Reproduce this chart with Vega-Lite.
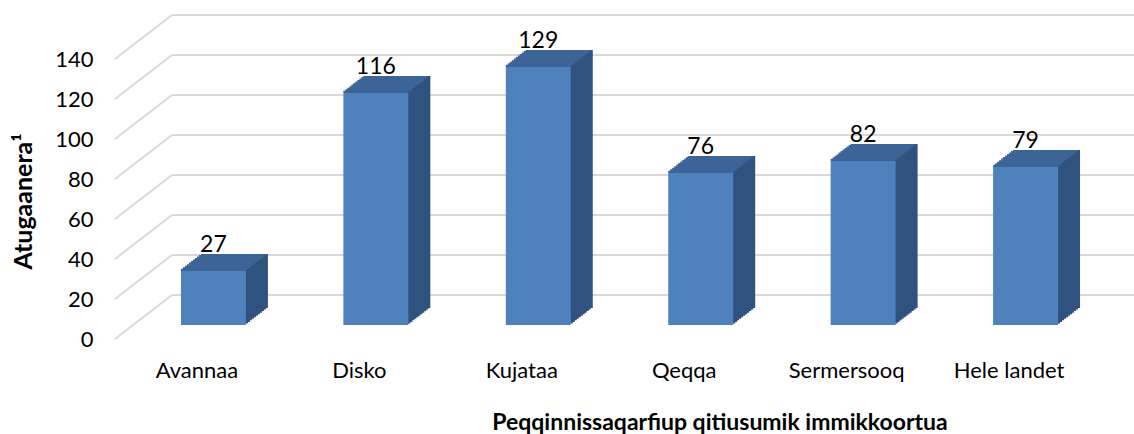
{
  "$schema": "https://vega.github.io/schema/vega-lite/v6.json",
  "width": 1009,
  "height": 311,
  "autosize": {"type": "none"},
  "padding": {"left": 115, "top": 14, "right": 10, "bottom": 109},
  "background": "white",
  "config": {"view": {"stroke": null}, "font": "Lato"},
  "resolve": {"axis": {"x": "independent", "y": "independent"}},
  "data": {"values": [
    {"region": "Avannaa", "value": 27},
    {"region": "Disko", "value": 116},
    {"region": "Kujataa", "value": 129},
    {"region": "Qeqqa", "value": 76},
    {"region": "Sermersooq", "value": 82},
    {"region": "Hele landet", "value": 79}
  ]},
  "layer": [
    {
      "data": {"values": [{"v": 0}, {"v": 20}, {"v": 40}, {"v": 60}, {"v": 80}, {"v": 100}, {"v": 120}, {"v": 140}]},
      "layer": [
        {
          "mark": {"type": "rule", "color": "#d9d9d9", "strokeWidth": 2, "yOffset": -30, "y2Offset": -30, "xOffset": -41.5, "x2Offset": 108.5},
          "encoding": {
            "x": {"datum": "Avannaa", "type": "nominal", "axis": null, "scale": {"domain": ["Avannaa", "Disko", "Kujataa", "Qeqqa", "Sermersooq", "Hele landet"], "paddingInner": 0.6, "paddingOuter": 0.406}},
            "x2": {"datum": "Hele landet"},
            "y": {"field": "v", "type": "quantitative", "axis": null, "scale": {"domain": [0, 155.5], "nice": false}},
            "y2": {"field": "v"}
          }
        },
        {
          "mark": {"type": "rule", "color": "#d9d9d9", "strokeWidth": 2, "yOffset": 14, "y2Offset": -30, "xOffset": -98.5, "x2Offset": -41.5},
          "encoding": {
            "x": {"datum": "Avannaa", "type": "nominal", "axis": null, "scale": {"domain": ["Avannaa", "Disko", "Kujataa", "Qeqqa", "Sermersooq", "Hele landet"], "paddingInner": 0.6, "paddingOuter": 0.406}},
            "x2": {"datum": "Avannaa"},
            "y": {"field": "v", "type": "quantitative", "axis": null, "scale": {"domain": [0, 155.5], "nice": false}},
            "y2": {"field": "v"}
          }
        }
      ]
    },
    {
      "encoding": {
        "x": {"field": "region", "type": "nominal", "sort": null,
          "scale": {"domain": ["Avannaa", "Disko", "Kujataa", "Qeqqa", "Sermersooq", "Hele landet"], "paddingInner": 0.6, "paddingOuter": 0.406},
          "axis": {"title": "Peqqinnissaqarfiup qitiusumik immikkoortua", "titleFont": "Lato", "titleFontSize": 23, "titleFontWeight": "bold", "titleColor": "#000000",
            "titleX": 604.5, "titleY": 104, "titleAlign": "center", "titleBaseline": "alphabetic",
            "labelAngle": 0, "labelFontSize": 22, "labelFont": "Lato", "labelColor": "#000000", "labelOffset": -16.5, "labelPadding": 52, "labelBaseline": "alphabetic",
            "domain": false, "ticks": false, "grid": false}},
        "y": {"field": "value", "type": "quantitative",
          "scale": {"domain": [0, 155.5], "nice": false},
          "axis": {"title": "Atugaanera¹", "titleFont": "Lato", "titleFontSize": 25, "titleFontWeight": "bold", "titleColor": "#000000",
            "titleX": -84, "titleY": 187, "titleAlign": "center", "titleBaseline": "alphabetic", "titleAngle": 270,
            "values": [0, 20, 40, 60, 80, 100, 120, 140], "labelOffset": 14, "labelPadding": 22, "labelFontSize": 22, "labelFont": "Lato", "labelColor": "#000000",
            "domain": false, "ticks": false, "grid": false}}
      },
      "layer": [
        {"mark": {"type": "bar", "color": "#30527e", "xOffset": 2, "yOffset": -1.545, "y2Offset": -1.545}, "encoding": {"y2": {"datum": 0}}},
        {"mark": {"type": "bar", "color": "#30527e", "xOffset": 4, "yOffset": -3.09, "y2Offset": -3.09}, "encoding": {"y2": {"datum": 0}}},
        {"mark": {"type": "bar", "color": "#30527e", "xOffset": 6, "yOffset": -4.636, "y2Offset": -4.636}, "encoding": {"y2": {"datum": 0}}},
        {"mark": {"type": "bar", "color": "#30527e", "xOffset": 8, "yOffset": -6.18, "y2Offset": -6.18}, "encoding": {"y2": {"datum": 0}}},
        {"mark": {"type": "bar", "color": "#30527e", "xOffset": 10, "yOffset": -7.73, "y2Offset": -7.73}, "encoding": {"y2": {"datum": 0}}},
        {"mark": {"type": "bar", "color": "#30527e", "xOffset": 12, "yOffset": -9.27, "y2Offset": -9.27}, "encoding": {"y2": {"datum": 0}}},
        {"mark": {"type": "bar", "color": "#30527e", "xOffset": 14, "yOffset": -10.82, "y2Offset": -10.82}, "encoding": {"y2": {"datum": 0}}},
        {"mark": {"type": "bar", "color": "#30527e", "xOffset": 16, "yOffset": -12.36, "y2Offset": -12.36}, "encoding": {"y2": {"datum": 0}}},
        {"mark": {"type": "bar", "color": "#30527e", "xOffset": 18, "yOffset": -13.91, "y2Offset": -13.91}, "encoding": {"y2": {"datum": 0}}},
        {"mark": {"type": "bar", "color": "#30527e", "xOffset": 20, "yOffset": -15.45, "y2Offset": -15.45}, "encoding": {"y2": {"datum": 0}}},
        {"mark": {"type": "bar", "color": "#30527e", "xOffset": 22, "yOffset": -17, "y2Offset": -17}, "encoding": {"y2": {"datum": 0}}},
        {"mark": {"type": "bar", "color": "#3c6497", "xOffset": 0, "yOffset": -2.2, "y2Offset": 0}, "encoding": {"y2": {"field": "value"}}},
        {"mark": {"type": "bar", "color": "#3c6497", "xOffset": 2, "yOffset": -3.745, "y2Offset": -1.545}, "encoding": {"y2": {"field": "value"}}},
        {"mark": {"type": "bar", "color": "#3c6497", "xOffset": 4, "yOffset": -5.29, "y2Offset": -3.09}, "encoding": {"y2": {"field": "value"}}},
        {"mark": {"type": "bar", "color": "#3c6497", "xOffset": 6, "yOffset": -6.836, "y2Offset": -4.636}, "encoding": {"y2": {"field": "value"}}},
        {"mark": {"type": "bar", "color": "#3c6497", "xOffset": 8, "yOffset": -8.38, "y2Offset": -6.18}, "encoding": {"y2": {"field": "value"}}},
        {"mark": {"type": "bar", "color": "#3c6497", "xOffset": 10, "yOffset": -9.93, "y2Offset": -7.73}, "encoding": {"y2": {"field": "value"}}},
        {"mark": {"type": "bar", "color": "#3c6497", "xOffset": 12, "yOffset": -11.47, "y2Offset": -9.27}, "encoding": {"y2": {"field": "value"}}},
        {"mark": {"type": "bar", "color": "#3c6497", "xOffset": 14, "yOffset": -13.02, "y2Offset": -10.82}, "encoding": {"y2": {"field": "value"}}},
        {"mark": {"type": "bar", "color": "#3c6497", "xOffset": 16, "yOffset": -14.56, "y2Offset": -12.36}, "encoding": {"y2": {"field": "value"}}},
        {"mark": {"type": "bar", "color": "#3c6497", "xOffset": 18, "yOffset": -16.11, "y2Offset": -13.91}, "encoding": {"y2": {"field": "value"}}},
        {"mark": {"type": "bar", "color": "#3c6497", "xOffset": 20, "yOffset": -17, "y2Offset": -15.45}, "encoding": {"y2": {"field": "value"}}},
        {"mark": {"type": "bar", "color": "#4f81bd"}, "encoding": {"y2": {"datum": 0}}},
        {"mark": {"type": "text", "dy": -19, "baseline": "alphabetic", "fontSize": 23, "font": "Lato", "color": "#000000"}, "encoding": {"text": {"field": "value", "type": "quantitative"}}}
      ]
    }
  ]
}
